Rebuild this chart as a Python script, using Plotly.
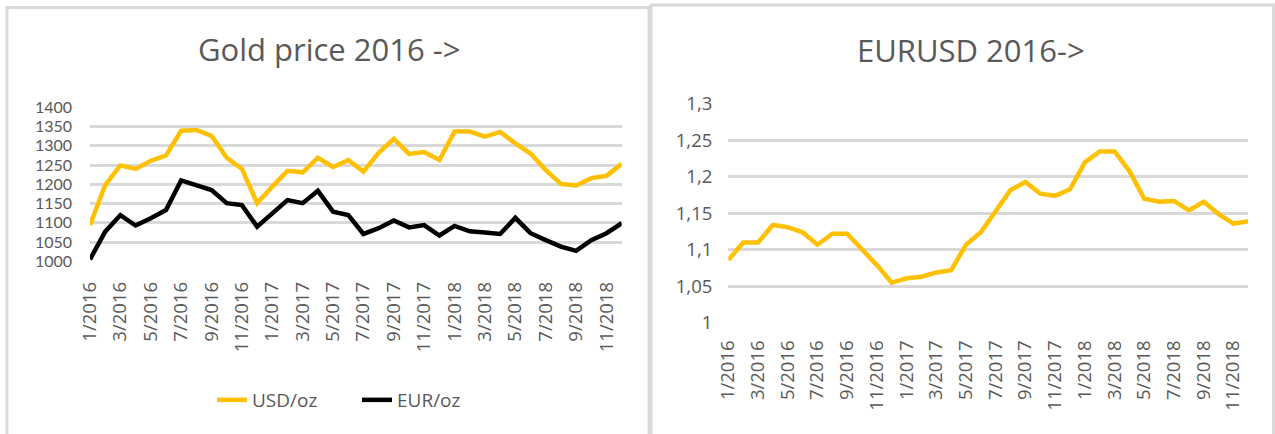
import plotly.graph_objects as go

months = ["1/2016","2/2016","3/2016","4/2016","5/2016","6/2016","7/2016","8/2016","9/2016","10/2016","11/2016","12/2016",
          "1/2017","2/2017","3/2017","4/2017","5/2017","6/2017","7/2017","8/2017","9/2017","10/2017","11/2017","12/2017",
          "1/2018","2/2018","3/2018","4/2018","5/2018","6/2018","7/2018","8/2018","9/2018","10/2018","11/2018","12/2018"]
usd_oz = [1094,1198,1249,1240,1261,1275,1339,1341,1326,1269,1240,1151,
          1194,1235,1231,1269,1245,1263,1233,1282,1318,1279,1284,1263,
          1337,1337,1324,1336,1306,1280,1237,1201,1197,1216,1222,1253]
eur_oz = [1005,1077,1120,1093,1112,1133,1210,1196,1185,1151,1146,1090,
          1125,1159,1151,1183,1129,1120,1071,1086,1106,1088,1094,1067,
          1092,1078,1075,1071,1113,1073,1055,1038,1027,1055,1073,1099]
eurusd = [1.086,1.110,1.110,1.134,1.131,1.124,1.107,1.122,1.122,1.101,1.079,1.055,
          1.061,1.063,1.069,1.072,1.107,1.124,1.153,1.182,1.193,1.177,1.174,1.183,
          1.220,1.235,1.235,1.208,1.170,1.166,1.167,1.154,1.166,1.149,1.136,1.139]
gold_ticks = [1000,1050,1100,1150,1200,1250,1300,1350,1400]
fx_ticks = [1.0,1.05,1.1,1.15,1.2,1.25,1.3]
fx_ticktext = ["1","1,05","1,1","1,15","1,2","1,25","1,3"]
x_ticks = months[::2]

W, H = 1275, 434
FONT = "Open Sans"
GRAY = "#595959"
GRID = "#d9d9d9"
YELLOW = "#FFC000"

def px(x): return x / W
def py(y): return 1 - y / H

fig = go.Figure()
fig.add_trace(go.Scatter(x=months, y=usd_oz, name="USD/oz", mode="lines",
                         line=dict(color=YELLOW, width=4.5), xaxis="x", yaxis="y"))
fig.add_trace(go.Scatter(x=months, y=eur_oz, name="EUR/oz", mode="lines",
                         line=dict(color="#000000", width=4.5), xaxis="x", yaxis="y"))
fig.add_trace(go.Scatter(x=months, y=eurusd, name="EURUSD", mode="lines", showlegend=False,
                         line=dict(color=YELLOW, width=4.5), xaxis="x2", yaxis="y2"))

xtickfont = dict(family=FONT, size=18.5, color=GRAY)
xcommon = dict(type="category", tickvals=x_ticks, ticktext=x_ticks, tickangle=-90,
               showgrid=False, zeroline=False, showline=False, ticks="", tickfont=xtickfont,
               automargin=False)
ycommon = dict(showgrid=True, gridcolor=GRID, gridwidth=2.5, zeroline=False, showline=False,
               ticks="", automargin=False)

fig.update_layout(
    width=W, height=H, margin=dict(l=0, r=0, t=0, b=0, pad=0, autoexpand=False),
    paper_bgcolor="white", plot_bgcolor="white",
    font=dict(family=FONT, color=GRAY),
    xaxis=dict(domain=[px(90), px(621.7)], anchor="y", ticklabelstandoff=16, **xcommon),
    yaxis=dict(domain=[py(261.3), py(107.3)], anchor="x", range=[1000, 1400],
               tickvals=gold_ticks, ticklabelstandoff=17,
               tickfont=dict(family="Lato", size=16, color=GRAY), **ycommon),
    xaxis2=dict(domain=[px(728.3), px(1248.3)], anchor="y2", ticklabelstandoff=13, **xcommon),
    yaxis2=dict(domain=[py(322.7), py(104)], anchor="x2", range=[1.0, 1.3],
                tickvals=fx_ticks, ticktext=fx_ticktext, ticklabelstandoff=15,
                tickfont=dict(family=FONT, size=18.5, color=GRAY), **ycommon),
    showlegend=True,
    legend=dict(orientation="h", x=px(357), xanchor="center", y=py(400), yanchor="middle",
                font=dict(family=FONT, size=19, color=GRAY), bgcolor="rgba(0,0,0,0)",
                itemwidth=30, entrywidth=100),
    annotations=[
        dict(text="Gold price 2016 ->", x=px(329), y=py(49), xref="paper", yref="paper",
             xanchor="center", yanchor="middle", showarrow=False,
             font=dict(family=FONT, size=31, color=GRAY)),
        dict(text="EURUSD 2016->", x=px(971), y=py(50), xref="paper", yref="paper",
             xanchor="center", yanchor="middle", showarrow=False,
             font=dict(family=FONT, size=31, color=GRAY)),
    ],
    shapes=[
        dict(type="rect", xref="paper", yref="paper", x0=px(7), x1=px(649), y0=py(445), y1=py(7.5),
             line=dict(color=GRID, width=3), fillcolor="rgba(0,0,0,0)", layer="below"),
        dict(type="rect", xref="paper", yref="paper", x0=px(651), x1=px(1273.5), y0=py(445), y1=py(5),
             line=dict(color=GRID, width=3), fillcolor="rgba(0,0,0,0)", layer="below"),
    ],
)

fig.write_html("out.html", config={"displayModeBar": False},
               post_script="document.body.style.margin='0';document.body.style.overflow='hidden';")
